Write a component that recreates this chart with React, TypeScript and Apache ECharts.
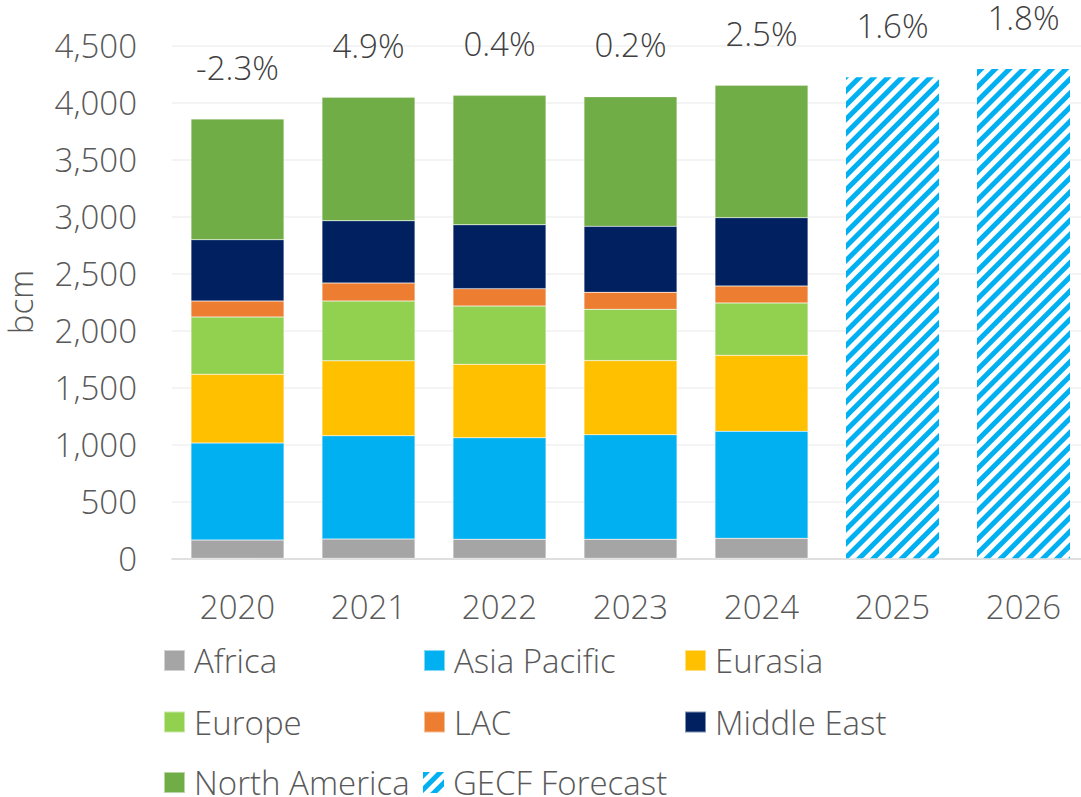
import React, { useEffect, useRef } from "react";
import * as echarts from "echarts";

const years = ["2020", "2021", "2022", "2023", "2024", "2025", "2026"];
const africa = [160, 169, 167, 167, 175, null, null];
const asiaPacific = [851, 906, 890, 917, 939, null, null];
const eurasia = [603, 657, 645, 650, 667, null, null];
const europe = [503, 525, 511, 450, 459, null, null];
const lac = [140, 158, 152, 149, 149, null, null];
const middleEast = [538, 546, 561, 579, 599, null, null];
const northAmerica = [1058, 1083, 1135, 1137, 1161, null, null];
const forecast = [null, null, null, null, null, 4219, 4292];
const growth = ["-2.3%", "4.9%", "0.4%", "0.2%", "2.5%", "1.6%", "1.8%"];
const yTicks = [0, 500, 1000, 1500, 2000, 2500, 3000, 3500, 4000, 4500];

const FONT = "'Open Sans'";
const FS = 33;
const TXT = "#595959";

export default function App() {
  const ref = useRef<HTMLDivElement>(null);
  useEffect(() => {
    if (!ref.current) return;
    const chart = echarts.init(ref.current, undefined, { renderer: "svg" });
    const fcDecal = {
      symbol: "rect",
      symbolSize: 1,
      color: "#00B0F0",
      dashArrayX: [1, 0],
      dashArrayY: [5, 4.5],
      rotation: -Math.PI / 4,
    };
    const label = (fromIdx: number, toIdx: number) => ({
      show: true,
      position: "top",
      distance: 37,
      color: "#404040",
      fontFamily: FONT,
      fontWeight: 300,
      fontSize: FS,
      lineHeight: 30,
      formatter: (p: any) =>
        p.dataIndex >= fromIdx && p.dataIndex <= toIdx ? growth[p.dataIndex] : "",
    });
    const mk = (name: string, data: any[], color: string, extra: any = {}) => ({
      name,
      type: "bar",
      stack: "total",
      data,
      barCategoryGap: "29%",
      itemStyle: { color, borderColor: "rgba(255,255,255,0.5)", borderWidth: 0.5 },
      ...extra,
    });
    const series = [
      mk("Africa", africa, "#A5A5A5"),
      mk("Asia Pacific", asiaPacific, "#00B0F0"),
      mk("Eurasia", eurasia, "#FFC000"),
      mk("Europe", europe, "#92D050"),
      mk("LAC", lac, "#ED7D31"),
      mk("Middle East", middleEast, "#002060"),
      mk("North America", northAmerica, "#70AD47", { label: label(0, 4) }),
      {
        name: "GECF Forecast",
        type: "bar",
        stack: "total",
        data: forecast,
        itemStyle: { color: "#ffffff", decal: fcDecal },
        label: label(5, 6),
      },
    ];
    const legendPos: [string, number, number][] = [
      ["Africa", 163, 659],
      ["Asia Pacific", 423, 659],
      ["Eurasia", 684, 659],
      ["Europe", 163, 720.5],
      ["LAC", 423, 720.5],
      ["Middle East", 684, 720.5],
      ["North America", 163, 781],
      ["GECF Forecast", 423, 781],
    ];
    const legends = legendPos.map(([n, x, y]) => ({
      data: [n],
      left: x,
      top: y - 15,
      padding: 0,
      itemWidth: 21,
      itemHeight: 21,
      itemGap: 0,
      icon: "rect",
      selectedMode: false,
      textStyle: {
        color: TXT,
        fontFamily: FONT,
        fontWeight: 300,
        fontSize: FS,
        lineHeight: 30,
        padding: [0, 0, 0, 4],
      },
    }));
    chart.setOption({
      animation: false,
      backgroundColor: "#ffffff",
      grid: { left: 172, right: 0, top: 45.3, bottom: 797 - 558.3, containLabel: false },
      legend: legends,
      xAxis: {
        type: "category",
        data: years,
        axisLine: { lineStyle: { color: "#D9D9D9", width: 1.5 } },
        axisTick: { show: false },
        axisLabel: {
          color: TXT,
          fontFamily: FONT,
          fontWeight: 300,
          fontSize: FS,
          lineHeight: 33,
          margin: 32,
        },
      },
      yAxis: {
        type: "value",
        min: yTicks[0],
        max: yTicks[yTicks.length - 1],
        interval: 500,
        axisLine: { show: false },
        axisTick: { show: false },
        splitLine: { lineStyle: { color: "#F0F0F0", width: 1.5 } },
        axisLabel: {
          color: TXT,
          fontFamily: FONT,
          fontWeight: 300,
          fontSize: FS,
          margin: 35,
          formatter: (v: number) => v.toLocaleString("en-US"),
        },
      },
      graphic: [
        {
          type: "text",
          x: 20,
          y: 302,
          rotation: Math.PI / 2,
          style: {
            text: "bcm",
            fill: TXT,
            font: `300 ${FS}px ${FONT}`,
            align: "center",
            verticalAlign: "middle",
          },
        },
      ],
      series,
    });
    return () => chart.dispose();
  }, []);
  return (
    <div
      style={{
        position: "fixed",
        left: 0,
        top: 0,
        width: 1081,
        height: 797,
        overflow: "hidden",
        background: "#fff",
      }}
    >
      <div ref={ref} style={{ width: 1089, height: 797 }} />
    </div>
  );
}
